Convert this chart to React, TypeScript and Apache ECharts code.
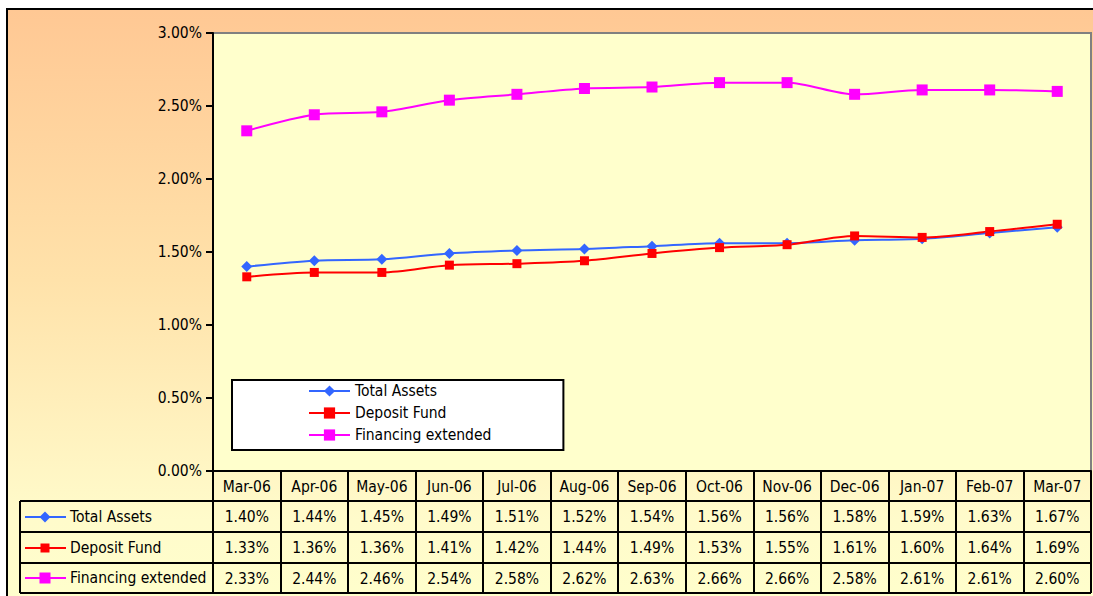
import React, { useEffect, useRef } from "react";
import * as echarts from "echarts";

const months = ["Mar-06", "Apr-06", "May-06", "Jun-06", "Jul-06", "Aug-06", "Sep-06", "Oct-06", "Nov-06", "Dec-06", "Jan-07", "Feb-07", "Mar-07"];
const totalAssets = [1.40, 1.44, 1.45, 1.49, 1.51, 1.52, 1.54, 1.56, 1.56, 1.58, 1.59, 1.63, 1.67];
const depositFund = [1.33, 1.36, 1.36, 1.41, 1.42, 1.44, 1.49, 1.53, 1.55, 1.61, 1.60, 1.64, 1.69];
const financingExtended = [2.33, 2.44, 2.46, 2.54, 2.58, 2.62, 2.63, 2.66, 2.66, 2.58, 2.61, 2.61, 2.60];
const seriesNames = ["Total Assets", "Deposit Fund", "Financing extended"];
const yTicks = { min: 0, max: 3, interval: 0.5 };

const FONT = "'DejaVu Sans Condensed', 'DejaVu Sans'";
const FS = 15.5;
const BLUE = "#3366FF";
const RED = "#FF0000";
const MAGENTA = "#FF00FF";

export default function App() {
  const ref = useRef<HTMLDivElement>(null);
  useEffect(() => {
    document.body.style.margin = "0";
    const chart = echarts.init(ref.current!, null, { renderer: "svg" });
    const pct = (v: number) => v.toFixed(2) + "%";
    const rows = [totalAssets, depositFund, financingExtended];
    const colors = [BLUE, RED, MAGENTA];
    const symbols = ["diamond", "rect", "rect"];
    const sizes = [11, 9, 11];

    const gridLeft = 213, gridTop = 33, gridRight = 1091, gridBottom = 471;
    const rowLines = [501, 532, 563, 593];
    const rowCenters = [517, 548, 578];

    const graphics: any[] = [];
    rowLines.forEach((y) => {
      graphics.push({ type: "line", shape: { x1: 20, y1: y, x2: gridRight, y2: y }, style: { stroke: "#000", lineWidth: 2 }, z: 10 });
    });
    graphics.push({ type: "line", shape: { x1: 20, y1: rowLines[0], x2: 20, y2: 593 }, style: { stroke: "#000", lineWidth: 2 }, z: 10 });
    rows.forEach((_, k) => {
      const cy = rowCenters[k];
      graphics.push({ type: "line", shape: { x1: 25, y1: cy, x2: 66, y2: cy }, style: { stroke: colors[k], lineWidth: 2 }, z: 10 });
      if (k === 0) {
        graphics.push({ type: "polygon", shape: { points: [[45, cy - 5.5], [50.5, cy], [45, cy + 5.5], [39.5, cy]] }, style: { fill: colors[k] }, z: 11 });
      } else {
        const s = sizes[k];
        graphics.push({ type: "rect", shape: { x: 45 - s / 2, y: cy - s / 2, width: s, height: s }, style: { fill: colors[k] }, z: 11 });
      }
      graphics.push({ type: "text", x: 70, y: cy, style: { text: seriesNames[k], font: `${FS}px ${FONT}`, fill: "#000", verticalAlign: "middle" }, z: 11 });
    });

    const valueAxis = (k: number, offset: number) => ({
      type: "category",
      position: "bottom",
      offset,
      data: months,
      axisLine: { show: false },
      axisTick: { show: false },
      axisLabel: {
        interval: 0,
        margin: 8,
        color: "#000",
        fontFamily: FONT,
        fontSize: FS,
        formatter: (_v: string, i: number) => pct(rows[k][i]),
      },
    });

    chart.setOption({
      animation: false,
      backgroundColor: "transparent",
      textStyle: { fontFamily: FONT },
      grid: {
        left: gridLeft,
        top: gridTop,
        width: gridRight - gridLeft,
        height: gridBottom - gridTop,
        show: true,
        backgroundColor: "#FFFFCC",
        borderColor: "#808080",
        borderWidth: 2,
      },
      legend: {
        orient: "vertical",
        left: 232,
        top: 380,
        backgroundColor: "#FFFFFF",
        borderColor: "#000",
        borderWidth: 2,
        borderRadius: 0,
        padding: [3, 72, 7, 76],
        itemGap: 6,
        itemWidth: 41,
        itemHeight: 14,
        textStyle: { fontFamily: FONT, fontSize: FS, color: "#000" },
        data: seriesNames,
      },
      xAxis: [
        {
          type: "category",
          position: "bottom",
          data: months,
          boundaryGap: true,
          axisLine: { show: true, lineStyle: { color: "#000", width: 2 } },
          axisTick: { show: true, length: 122, lineStyle: { color: "#000", width: 2 } },
          axisLabel: { interval: 0, margin: 8, color: "#000", fontFamily: FONT, fontSize: FS },
          splitLine: { show: false },
        },
        valueAxis(0, 30),
        valueAxis(1, 61),
        valueAxis(2, 92),
      ],
      yAxis: {
        type: "value",
        min: yTicks.min,
        max: yTicks.max,
        interval: yTicks.interval,
        axisLine: { show: true, lineStyle: { color: "#000", width: 2 } },
        axisTick: { show: true, length: 7, lineStyle: { color: "#000", width: 2 } },
        axisLabel: { margin: 11, color: "#000", fontFamily: FONT, fontSize: FS, formatter: (v: number) => pct(v) },
        splitLine: { show: false },
      },
      series: rows.map((d, k) => ({
        name: seriesNames[k],
        type: "line",
        data: d,
        xAxisIndex: 0,
        smooth: 0.3,
        symbol: symbols[k],
        symbolSize: sizes[k],
        showAllSymbol: true,
        lineStyle: { color: colors[k], width: 2 },
        itemStyle: { color: colors[k] },
      })),
      graphic: graphics,
    });
    return () => chart.dispose();
  }, []);

  return (
    <div style={{ position: "relative", width: 1093, height: 596, background: "#fff", overflow: "hidden" }}>
      <div
        style={{
          position: "absolute",
          left: 6,
          top: 8,
          width: 1100,
          height: 600,
          borderLeft: "2px solid #000",
          borderTop: "2px solid #000",
          background: "linear-gradient(to bottom, #FFC894 0%, #FFE2AA 45%, #FFFBCB 85%, #FFFFCC 100%)",
        }}
      />
      <div ref={ref} style={{ position: "absolute", left: 0, top: 0, width: 1093, height: 596 }} />
    </div>
  );
}
